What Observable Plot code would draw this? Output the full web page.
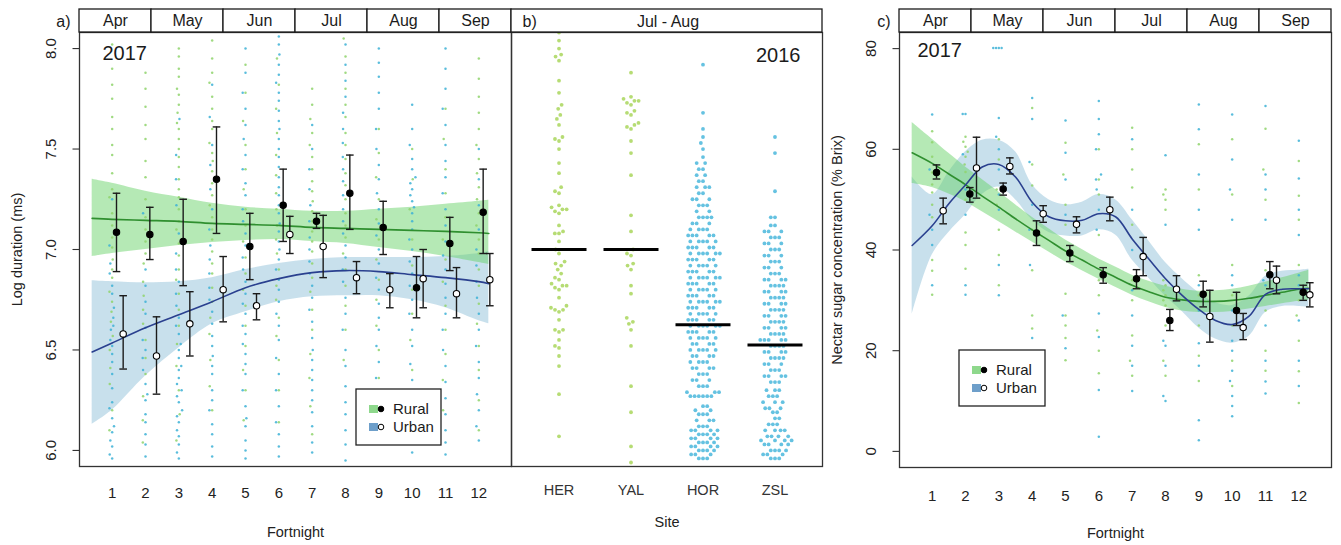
<!DOCTYPE html>
<html>
<head>
<meta charset="utf-8">
<script src="https://cdn.jsdelivr.net/npm/d3@7"></script>
<script src="https://cdn.jsdelivr.net/npm/@observablehq/plot@0.6"></script>
<style>
  body { margin: 0; background: #fff; }
  #fig { position: relative; width: 1341px; height: 545px; background: #fff; }
  #fig svg { position: absolute; left: 0; top: 0; }
</style>
</head>
<body>
<div id="fig"></div>
<script>
// ---------------- categories ----------------
const fortnights = [1, 2, 3, 4, 5, 6, 7, 8, 9, 10, 11, 12];
const months = ["Apr", "May", "Jun", "Jul", "Aug", "Sep"];
const groups = ["Rural", "Urban"];

// ---------------- a) log call duration, 2017 ----------------
const durTicks = [6.0, 6.5, 7.0, 7.5, 8.0];
const durRuralMean = [7.086, 7.075, 7.04, 7.35, 7.015, 7.22, 7.14, 7.28, 7.11, 6.81, 7.03, 7.185];
const durRuralLo   = [6.89, 6.95, 6.82, 7.08, 6.85, 7.04, 7.105, 7.10, 6.975, 6.66, 6.895, 6.98];
const durRuralHi   = [7.28, 7.21, 7.25, 7.61, 7.18, 7.40, 7.18, 7.47, 7.24, 6.965, 7.16, 7.40];
const durUrbanMean = [6.58, 6.47, 6.63, 6.80, 6.72, 7.075, 7.015, 6.86, 6.80, 6.855, 6.78, 6.85];
const durUrbanLo   = [6.405, 6.28, 6.47, 6.64, 6.65, 6.98, 6.86, 6.78, 6.71, 6.71, 6.66, 6.72];
const durUrbanHi   = [6.77, 6.665, 6.79, 6.965, 6.78, 7.165, 7.17, 6.94, 6.88, 7.0, 6.91, 6.98];

// fitted trends with confidence bands
const durFitX       = [0.4, 1, 2, 3, 4, 5, 6, 7, 8, 9, 10, 11, 12, 12.3];
const durRuralFit   = [7.155, 7.15, 7.145, 7.14, 7.13, 7.125, 7.12, 7.11, 7.105, 7.1, 7.095, 7.09, 7.083, 7.08];
const durRuralFitLo = [6.965, 6.98, 7.0, 7.02, 7.035, 7.045, 7.05, 7.04, 7.03, 7.01, 6.99, 6.965, 6.935, 6.925];
const durRuralFitHi = [7.35, 7.33, 7.29, 7.26, 7.23, 7.21, 7.2, 7.19, 7.19, 7.2, 7.21, 7.225, 7.24, 7.245];
const durUrbanFit   = [6.49, 6.535, 6.61, 6.675, 6.74, 6.81, 6.855, 6.885, 6.895, 6.89, 6.875, 6.86, 6.84, 6.83];
const durUrbanFitLo = [6.13, 6.2, 6.37, 6.51, 6.63, 6.69, 6.74, 6.765, 6.77, 6.77, 6.75, 6.71, 6.645, 6.63];
const durUrbanFitHi = [6.845, 6.84, 6.835, 6.84, 6.86, 6.9, 6.93, 6.95, 6.96, 6.96, 6.96, 6.965, 6.98, 6.99];

// individual calls, one string per fortnight
const durRuralObs = [
  "8.02 7.9 7.82 7.75 7.66 7.6 7.52 7.47 7.38 7.3 7.26 7.18 7.12 7.06 7.01 6.95 6.9 6.86 6.79 6.74 6.69 6.64 6.57 6.5 6.41 6.33 6.2 6.1",
  "7.88 7.8 7.71 7.62 7.55 7.44 7.36 7.25 7.16 7.1 7.04 6.98 6.93 6.84 6.77 6.7 6.63 6.55 6.46 6.38 6.27 6.15 6.04",
  "8.0 7.96 7.9 7.86 7.8 7.77 7.72 7.68 7.63 7.6 7.55 7.5 7.46 7.41 7.35 7.3 7.26 7.2 7.14 7.1 7.03 6.97 6.9 6.85 6.78 6.7 6.62 6.53 6.42 6.3 6.18 6.05",
  "8.04 7.95 7.88 7.83 7.76 7.7 7.64 7.6 7.53 7.48 7.44 7.39 7.33 7.27 7.22 7.16 7.1 7.05 6.99 6.93 6.88 6.81 6.74 6.66 6.58 6.45 6.32 6.2",
  "7.92 7.78 7.64 7.52 7.4 7.3 7.2 7.12 7.04 6.96 6.88 6.8 6.72 6.62 6.52 6.4 6.3 6.15",
  "7.95 7.82 7.7 7.58 7.47 7.37 7.28 7.2 7.12 7.05 6.98 6.9 6.82 6.75 6.66 6.57 6.45 6.3 6.14",
  "7.8 7.72 7.65 7.58 7.52 7.46 7.4 7.34 7.29 7.24 7.19 7.14 7.09 7.04 6.99 6.93 6.86 6.79 6.7 6.6 6.48 6.36 6.22 6.08",
  "8.05 7.96 7.88 7.8 7.72 7.66 7.58 7.52 7.45 7.38 7.32 7.25 7.18 7.12 7.06 6.98 6.9 6.82 6.72 6.6 6.45",
  "7.6 7.48 7.36 7.25 7.15 7.05 6.95 6.85 6.75 6.62 6.5 6.36",
  "7.5 7.35 7.2 7.05 6.92 6.8 6.68 6.55 6.4 6.25",
  "7.7 7.55 7.4 7.28 7.16 7.05 6.95 6.84 6.72 6.6 6.48 6.35 6.2",
  "7.95 7.85 7.76 7.68 7.6 7.52 7.45 7.38 7.31 7.25 7.18 7.12 7.05 6.98 6.9 6.82 6.73 6.63 6.52 6.4 6.25 6.1"
];
const durUrbanObs = [
  "7.25 7.02 6.93 6.88 6.82 6.78 6.71 6.66 6.62 6.6 6.55 6.52 6.48 6.44 6.38 6.31 6.24 6.21 6.16 6.12 6.09 6.05 6.02 5.98 5.96",
  "7.18 6.9 6.82 6.74 6.68 6.61 6.55 6.5 6.46 6.4 6.33 6.28 6.25 6.18 6.14 6.08 6.03 5.97",
  "7.65 7.47 7.35 7.22 7.08 6.98 6.9 6.84 6.78 6.72 6.66 6.62 6.58 6.53 6.5 6.46 6.42 6.4 6.36 6.33 6.3 6.27 6.24 6.2 6.17 6.14 6.1 6.07 6.03 5.99 5.96",
  "7.82 7.66 7.52 7.42 7.3 7.2 7.1 7.02 6.95 6.88 6.81 6.75 6.69 6.63 6.57 6.52 6.47 6.42 6.38 6.3 6.25 6.2 6.13 6.08 6.02 5.97",
  "8.0 7.88 7.78 7.7 7.62 7.55 7.47 7.4 7.33 7.27 7.2 7.14 7.08 7.02 6.96 6.9 6.84 6.78 6.73 6.68 6.62 6.58 6.53 6.48 6.43 6.38 6.3 6.22 6.16 6.12 6.05 6.0 5.96",
  "8.06 8.02 7.97 7.92 7.87 7.83 7.78 7.74 7.69 7.64 7.6 7.55 7.5 7.46 7.41 7.36 7.31 7.27 7.22 7.18 7.13 7.09 7.04 7.0 6.95 6.9 6.85 6.8 6.74 6.68 6.62 6.55 6.46 6.38 6.3 6.22 6.14 6.08 6.02 5.97",
  "7.62 7.5 7.4 7.3 7.22 7.14 7.06 7.0 6.94 6.88 6.82 6.76 6.7 6.64 6.56 6.5 6.45 6.4 6.35 6.3 6.25 6.19 6.12 6.04 5.99",
  "8.02 7.92 7.84 7.76 7.68 7.6 7.53 7.46 7.4 7.34 7.27 7.2 7.14 7.08 7.02 6.96 6.9 6.84 6.76 6.68 6.6 6.5 6.42 6.32 6.24 6.18 6.1 6.03 5.95",
  "8.0 7.93 7.86 7.78 7.7 7.6 7.5 7.42 7.35 7.28 7.2 7.13 7.07 7.0 6.93 6.86 6.8 6.73 6.66 6.6 6.52 6.44 6.36 6.28 6.2 6.12 6.04",
  "7.72 7.6 7.52 7.45 7.4 7.36 7.33 7.3 7.27 7.24 7.21 7.18 7.14 7.1 7.05 7.0 6.94 6.88 6.82 6.75 6.68 6.6 6.52 6.43 6.35 6.28 6.2 6.12 6.05 5.99",
  "8.0 7.9 7.8 7.7 7.62 7.52 7.44 7.36 7.28 7.2 7.12 7.04 6.97 6.9 6.83 6.76 6.68 6.6 6.5 6.42 6.34 6.26 6.18 6.1 6.04 5.98",
  "7.5 7.35 7.22 7.1 7.0 6.92 6.84 6.76 6.68 6.6 6.52 6.44 6.36 6.28 6.2 6.12 6.05"
];

// ---------------- b) sites, Jul - Aug 2016 ----------------
const sites = ["HER", "YAL", "HOR", "ZSL"];
const siteGroup = ["Rural", "Rural", "Urban", "Urban"];
const siteMedian = [7.0, 7.0, 6.625, 6.525];
const herObs = "8.08 8.04 8.0 7.97 7.96 7.94 7.84 7.78 7.72 7.7 7.67 7.65 7.62 7.56 7.55 7.54 7.5 7.43 7.38 7.31 7.29 7.28 7.22 7.21 7.2 7.2 7.19 7.18 7.12 7.09 7.08 7.08 7.04 7.0 6.98 6.94 6.93 6.92 6.9 6.88 6.86 6.85 6.83 6.82 6.82 6.81 6.8 6.76 6.72 6.71 6.7 6.7 6.69 6.65 6.6 6.6 6.59 6.55 6.52 6.51 6.47 6.42 6.28 6.07";
const yalObs = "7.88 7.76 7.75 7.74 7.74 7.73 7.72 7.69 7.68 7.67 7.63 7.62 7.61 7.6 7.54 7.48 7.37 7.17 7.09 7.0 6.98 6.97 6.93 6.92 6.9 6.82 6.78 6.66 6.64 6.63 6.6 6.52 6.32 6.19 6.02 5.94";
// [value, number of calls with that value]
const horRows = [[7.92,1],[7.68,1],[7.6,1],[7.56,1],[7.53,1],[7.5,1],[7.46,1],[7.43,2],[7.4,2],[7.37,2],[7.34,2],[7.31,3],[7.28,2],[7.25,3],[7.22,3],[7.19,2],[7.16,4],[7.13,3],[7.1,4],
  [7.07,5],[7.04,5],[7.01,5],[6.98,6],[6.95,5],[6.92,5],[6.89,5],[6.86,6],[6.83,5],[6.8,5],[6.77,5],[6.74,6],[6.71,5],[6.68,5],[6.65,5],
  [6.62,6],[6.59,5],[6.56,5],[6.53,4],[6.5,5],[6.47,4],[6.44,4],[6.41,4],[6.38,3],[6.35,3],[6.32,3],[6.29,3],[6.27,6],[6.22,2],[6.2,2],[6.18,3],[6.15,3],[6.12,3],
  [6.1,4],[6.08,4],[6.06,4],[6.04,4],[6.02,4],[6.0,4],[5.98,3],[5.96,3]];
const zslRows = [[7.56,1],[7.48,1],[7.29,1],[7.16,2],[7.12,2],[7.09,3],[7.06,3],[7.03,3],[7.0,3],[6.97,3],[6.94,3],[6.91,3],[6.88,3],[6.85,4],[6.82,4],[6.79,4],[6.76,4],[6.73,4],
  [6.7,4],[6.67,4],[6.64,4],[6.61,4],[6.58,4],[6.55,5],[6.52,4],[6.49,4],[6.46,4],[6.43,3],[6.4,3],[6.37,4],[6.34,3],[6.3,3],[6.27,3],[6.24,3],[6.21,3],[6.19,2],[6.16,2],
  [6.13,3],[6.1,4],[6.07,4],[6.05,4],[6.03,4],[6.0,4],[5.98,3],[5.96,3]];

// ---------------- c) nectar sugar concentration, 2017 ----------------
const sugarTicks = [0, 20, 40, 60, 80];
const sugarRuralMean = [55.4, 51.1, 52.1, 43.4, 39.4, 35.1, 34.3, 26.0, 31.2, 28.0, 35.1, 31.6];
const sugarRuralLo   = [54.1, 49.5, 50.9, 40.9, 37.7, 33.4, 32.3, 24.0, 28.7, 25.0, 32.3, 30.0];
const sugarRuralHi   = [56.9, 52.4, 53.3, 45.8, 40.9, 36.5, 36.1, 28.2, 33.8, 31.6, 37.7, 33.0];
const sugarUrbanMean = [47.8, 56.3, 56.6, 47.2, 45.1, 48.0, 38.7, 32.2, 26.8, 24.6, 34.0, 31.1];
const sugarUrbanLo   = [45.2, 50.3, 55.1, 45.5, 43.4, 45.8, 34.9, 29.9, 21.7, 22.2, 31.3, 28.7];
const sugarUrbanHi   = [50.3, 62.4, 58.3, 48.8, 46.6, 50.5, 42.5, 34.9, 32.0, 27.4, 36.8, 33.5];

const sugarFitX       = [0.4, 1, 1.5, 2, 2.5, 3, 3.5, 4, 4.5, 5, 5.5, 6, 6.5, 7, 7.5, 8, 8.5, 9, 9.5, 10, 10.5, 11, 11.5, 12, 12.3];
const sugarRuralFit   = [59.3, 57.2, 55.1, 53.0, 50.7, 48.5, 46.2, 44.0, 41.9, 39.8, 38.0, 36.2, 34.6, 33.0, 31.7, 30.6, 30.1, 29.8, 29.8, 30.0, 30.4, 31.0, 31.6, 32.2, 32.4];
const sugarRuralFitLo = [53.2, 52.4, 51.1, 49.6, 47.6, 45.6, 43.6, 41.6, 39.6, 37.6, 35.9, 34.2, 32.6, 31.0, 29.7, 28.6, 27.9, 27.6, 27.6, 27.8, 28.3, 28.8, 29.3, 29.8, 30.0];
const sugarRuralFitHi = [65.3, 62.0, 59.2, 56.5, 54.0, 51.5, 49.0, 46.5, 44.2, 42.0, 40.1, 38.2, 36.6, 35.0, 33.8, 32.8, 32.2, 31.8, 31.9, 32.2, 32.8, 33.6, 34.5, 35.4, 36.0];
const sugarUrbanFit   = [40.9, 44.8, 49.2, 52.9, 56.5, 57.0, 54.5, 49.5, 46.6, 45.8, 45.9, 47.2, 46.6, 42.2, 38.2, 34.3, 31.0, 28.2, 26.0, 25.2, 26.8, 31.2, 32.2, 32.3, 32.3];
const sugarUrbanFitLo = [27.2, 39.0, 43.5, 47.0, 51.0, 52.5, 50.0, 46.0, 43.5, 42.8, 42.8, 44.0, 43.0, 38.0, 34.4, 30.8, 27.8, 24.5, 22.3, 21.5, 22.8, 27.6, 28.8, 28.8, 28.6];
const sugarUrbanFitHi = [54.5, 51.0, 55.5, 59.5, 61.8, 61.8, 59.5, 53.0, 50.0, 49.0, 49.5, 51.0, 50.0, 46.0, 41.8, 37.5, 34.3, 31.5, 29.5, 29.0, 30.8, 34.8, 35.8, 36.0, 36.2];

const sugarRuralObs = [
  "63.6 61.4 58.5 55.4 53 51.4 49 46.5 38 35.9 31.1",
  "62.5 61.5 60.5 59.5 58.5 57 55.5 50 43.5 41 36.3",
  "62 58 52 49 44 39 33",
  "68.2 57 52.8 44 36 27 24.4",
  "61.3 55 49 45 31.3 27 25 22.5 18.1",
  "60 54 51 43 34 31 24 20 15.5",
  "64.3 60 56 52.4 45 34 30 23 18 15",
  "52 51 50 48 34 33 32 31 30 29 25 18 15",
  "61 52 35 31 25 19 14",
  "62 51 37 31 25 18 13",
  "64.1 56 50 36 28 20 16",
  "57.7 50.8 46 37 30 27 22 15.9 9.6"
];
const sugarUrbanObs = [
  "66.9 56 47 44 41 33",
  "67 67 59 52 47 33 31.1",
  "80.1 80.1 80.1 80.1 66.2 62.5 60 56 51 48 37 31",
  "70.2 66 57.5 49 44 37 22.5",
  "65.7 59.3 54 47 27 20.5",
  "69.6 66 63 60 55 54 52 48 44 27.4 22.7 12.2 2.9",
  "62 48 40 32 27 21 17 12",
  "58.8 45 22 21 17 11 10",
  "68.9 64 55 48 44 33 28 21.5 17 6.2 2.2",
  "66.9 58 52 46 35 33 28 22 20 16 14 11 9 7",
  "68.6 55 52 46 34 33 25 18 13.9 11.5",
  "61.7 54.2 48 43 35 33 26 18 13"
];

// ---------------- styling ----------------
const W = 1341, H = 545;
const FONT = '"Liberation Sans", Arial, Helvetica, sans-serif';
const INK = "#1b1b1b";
const GREEN_BAND = "rgb(100,208,100)", BLUE_BAND = "rgb(140,190,216)", BAND_OPACITY = 0.48;
const GREEN_LINE = "#2f8f2f", BLUE_LINE = "#2a408f";
const GREEN_DOT = "#8fd36c", BLUE_DOT = "#3db1d6";
const SITE_GREEN = "#a9d65c", SITE_BLUE = "#4ab7dc";
const RURAL_DX = 0.13, URBAN_DX = 0.33;   // means of the two groups sit side by side
const xDomain = [0.02, 12.98];
const STRIP = 23;                          // header strip height, px

// horizontal bar used for error-bar caps, axis ticks and medians
const hLine = {draw(ctx, size) { const r = Math.sqrt(size / Math.PI); ctx.moveTo(-r, 0); ctx.lineTo(r, 0); }};

const parse = s => s.trim().split(/\s+/).map(Number);
const fromRows = rows => rows.flatMap(([v, n]) => Array(n).fill(v));

// beeswarm: each point takes the horizontal offset closest to its column centre
// that keeps it clear of its neighbours (elliptical clearance gapX by gapY, px)
function swarm(points, pxX, pxY, gapX, gapY) {
  const order = points.map((p, i) => i).sort((i, j) => points[i].v - points[j].v);
  const placed = [];
  const need = dy => gapX * Math.sqrt(Math.max(0, 1 - (dy / gapY) ** 2));
  for (const i of order) {
    const y = points[i].v * pxY;
    const near = placed.filter(q => Math.abs(q.y - y) < gapY);
    const cands = [0];
    for (const q of near) {
      const h = need(q.y - y);
      cands.push(q.x + h, q.x - h);
    }
    cands.sort((a, b) => Math.abs(a) - Math.abs(b) || a - b);
    let x = 0;
    for (const c of cands) {
      if (near.every(q => Math.abs(q.x - c) >= need(q.y - y) - 1e-6)) { x = c; break; }
    }
    placed.push({x, y});
    points[i].off = x / pxX;
  }
  return points;
}

const baseStyle = {background: "transparent", overflow: "visible", fontFamily: FONT, fontSize: "15px", color: INK};

// ---------------- seasonal panels (a and c) ----------------
function seasonalPanel(P) {
  const F = P.frame, yDomain = P.yDomain;
  const pxX = (F.right - F.left) / (xDomain[1] - xDomain[0]);
  const pxY = (F.bottom - F.top) / (yDomain[1] - yDomain[0]);
  const yTop = yDomain[1], yStrip = yDomain[1] + STRIP / pxY;
  const edges = d3.range(months.length + 1).map(i => xDomain[0] + i * (xDomain[1] - xDomain[0]) / months.length);

  const obs = [];
  fortnights.forEach((f, i) => {
    const col = [
      ...parse(P.ruralObs[i]).map(v => ({f, v, group: "Rural"})),
      ...parse(P.urbanObs[i]).map(v => ({f, v, group: "Urban"}))
    ];
    swarm(col, pxX, pxY, 2.8, 8);
    obs.push(...col);
  });
  const means = fortnights.flatMap((f, i) => [
    {f, group: "Rural", m: P.ruralMean[i], lo: P.ruralLo[i], hi: P.ruralHi[i]},
    {f, group: "Urban", m: P.urbanMean[i], lo: P.urbanLo[i], hi: P.urbanHi[i]}
  ]);
  const fitR = P.fitX.map((x, i) => ({x, y: P.ruralFit[i], lo: P.ruralFitLo[i], hi: P.ruralFitHi[i]}));
  const fitU = P.fitX.map((x, i) => ({x, y: P.urbanFit[i], lo: P.urbanFitLo[i], hi: P.urbanFitHi[i]}));
  const mx = d => d.f + (d.group === "Rural" ? RURAL_DX : URBAN_DX);
  const curve = "catmull-rom";

  return Plot.plot({
    width: W, height: H,
    marginLeft: F.left, marginRight: W - F.right, marginTop: F.top, marginBottom: H - F.bottom,
    style: baseStyle,
    x: {domain: xDomain, axis: null},
    y: {domain: yDomain, axis: null},
    marks: [
      Plot.areaY(fitU, {x: "x", y1: "lo", y2: "hi", fill: BLUE_BAND, fillOpacity: BAND_OPACITY, curve}),
      Plot.areaY(fitR, {x: "x", y1: "lo", y2: "hi", fill: GREEN_BAND, fillOpacity: BAND_OPACITY, curve}),
      Plot.dot(obs, {x: d => d.f + d.off, y: "v", r: 1.25, fill: d => d.group === "Rural" ? GREEN_DOT : BLUE_DOT, fillOpacity: 0.85}),
      Plot.line(fitR, {x: "x", y: "y", stroke: GREEN_LINE, strokeWidth: 1.6, curve}),
      Plot.line(fitU, {x: "x", y: "y", stroke: BLUE_LINE, strokeWidth: 1.6, curve}),
      Plot.ruleX(means, {x: mx, y1: "lo", y2: "hi", stroke: INK, strokeWidth: 1.4}),
      Plot.dot(means, {x: mx, y: "lo", symbol: hLine, r: 3.8, fill: "none", stroke: INK, strokeWidth: 1.4}),
      Plot.dot(means, {x: mx, y: "hi", symbol: hLine, r: 3.8, fill: "none", stroke: INK, strokeWidth: 1.4}),
      Plot.dot(means, {x: mx, y: "m", r: 3.2, fill: d => d.group === "Rural" ? "#000" : "#fff", stroke: "#000", strokeWidth: 1.1}),
      Plot.frame({stroke: "#333", strokeWidth: 1.3}),
      // month header
      Plot.rect(months, {x1: (d, i) => edges[i], x2: (d, i) => edges[i + 1], y1: () => yTop, y2: () => yStrip, fill: "#fff", stroke: INK, strokeWidth: 1.3}),
      Plot.text(months, {x: (d, i) => (edges[i] + edges[i + 1]) / 2, y: () => (yTop + yStrip) / 2, text: d => d, fontSize: 16, lineAnchor: "middle"}),
      Plot.text([P.tag], {frameAnchor: "top-left", dx: -9, dy: -11, text: d => d, textAnchor: "end", lineAnchor: "middle", fontSize: 16}),
      Plot.text([P.year], {frameAnchor: "top-left", dx: P.yearDx, dy: P.yearDy, text: d => d, textAnchor: "start", lineAnchor: "middle", fontSize: 20}),
      // axes
      Plot.dot(P.yTicks, {y: d => d, frameAnchor: "left", dx: -3.5, symbol: hLine, r: 3.5, fill: "none", stroke: "#333", strokeWidth: 1.1}),
      Plot.text(P.yTicks, {y: d => d, frameAnchor: "left", dx: -28, rotate: -90, text: P.tickFormat, textAnchor: "middle", lineAnchor: "middle", fontSize: 15, fill: "#222"}),
      Plot.text(fortnights, {x: d => d, frameAnchor: "bottom", dy: P.xLabelDy, text: d => String(d), lineAnchor: "middle", fontSize: 15, fill: "#222"}),
      Plot.text([P.yLabel], {frameAnchor: "left", dx: -62, rotate: -90, text: d => d, textAnchor: "middle", lineAnchor: "middle", fontSize: 14.5, fill: "#222"}),
      Plot.text(["Fortnight"], {frameAnchor: "bottom", dy: 66, text: d => d, lineAnchor: "middle", fontSize: 14.5, fill: "#222"})
    ]
  });
}

// ---------------- panel b ----------------
function sitePanel() {
  const F = {left: 511, right: 822, top: 32, bottom: 466};
  const xDom = [0.34, 4.66], yDom = [5.92, 8.08];
  const pxX = (F.right - F.left) / (xDom[1] - xDom[0]);
  const pxY = (F.bottom - F.top) / (yDom[1] - yDom[0]);
  const yTop = yDom[1], yStrip = yDom[1] + STRIP / pxY;
  const lists = [parse(herObs), parse(yalObs), fromRows(horRows), fromRows(zslRows)];
  const obs = [];
  lists.forEach((vals, i) => {
    const col = vals.map(v => ({s: i + 1, v, group: siteGroup[i]}));
    swarm(col, pxX, pxY, 4.2, 7);
    obs.push(...col);
  });
  return Plot.plot({
    width: W, height: H,
    marginLeft: F.left, marginRight: W - F.right, marginTop: F.top, marginBottom: H - F.bottom,
    style: baseStyle,
    x: {domain: xDom, axis: null},
    y: {domain: yDom, axis: null},
    marks: [
      Plot.dot(obs, {x: d => d.s + d.off, y: "v", r: 1.9, fill: d => d.group === "Rural" ? SITE_GREEN : SITE_BLUE, fillOpacity: 0.85}),
      Plot.dot(siteMedian, {x: (d, i) => i + 1, y: d => d, symbol: hLine, r: 27.5, fill: "none", stroke: "#000", strokeWidth: 3}),
      Plot.frame({stroke: "#333", strokeWidth: 1.3}),
      Plot.rect(["Jul - Aug"], {x1: () => xDom[0], x2: () => xDom[1], y1: () => yTop, y2: () => yStrip, fill: "#fff", stroke: INK, strokeWidth: 1.3}),
      Plot.text(["Jul - Aug"], {frameAnchor: "top", dx: 1, dy: -11, text: d => d, lineAnchor: "middle", fontSize: 16}),
      Plot.text(["b)"], {frameAnchor: "top-left", dx: 11, dy: -11, text: d => d, textAnchor: "start", lineAnchor: "middle", fontSize: 16}),
      Plot.text(["2016"], {frameAnchor: "top-right", dx: -22, dy: 23, text: d => d, textAnchor: "end", lineAnchor: "middle", fontSize: 20}),
      Plot.text(sites, {x: (d, i) => i + 1, frameAnchor: "bottom", dy: 24, text: d => d, lineAnchor: "middle", fontSize: 14.5, fill: "#333"}),
      Plot.text(["Site"], {frameAnchor: "bottom", dy: 56, text: d => d, lineAnchor: "middle", fontSize: 14.5, fill: "#222"})
    ]
  });
}

// ---------------- legends ----------------
function legend(svg, box) {
  const g = svg.append("g").attr("font-family", FONT).attr("font-size", 15).attr("fill", INK);
  g.append("rect").attr("x", box.x).attr("y", box.y).attr("width", box.w).attr("height", box.h)
    .attr("fill", "#fff").attr("stroke", "#222").attr("stroke-width", 1.3);
  const rows = [
    {label: groups[0], sw: "#8ed88c", dot: "#000"},
    {label: groups[1], sw: "#6e9fca", dot: "#fff"}
  ];
  rows.forEach((r, i) => {
    const cy = box.y + 20 + i * 18;
    g.append("rect").attr("x", box.x + 13).attr("y", cy - 4).attr("width", 9).attr("height", 8).attr("fill", r.sw);
    g.append("circle").attr("cx", box.x + 25).attr("cy", cy).attr("r", 2.8).attr("fill", r.dot).attr("stroke", "#000").attr("stroke-width", 1);
    g.append("text").attr("x", box.x + 37).attr("y", cy).attr("dy", "0.36em").text(r.label);
  });
}

// ---------------- assemble ----------------
const fig = document.getElementById("fig");

fig.append(seasonalPanel({
  frame: {left: 79, right: 511, top: 32, bottom: 466},
  yDomain: [5.92, 8.08], yTicks: durTicks, tickFormat: d => d.toFixed(1),
  yLabel: "Log duration (ms)", tag: "a)", year: "2017", yearDx: 23, yearDy: 21, xLabelDy: 27,
  ruralMean: durRuralMean, ruralLo: durRuralLo, ruralHi: durRuralHi,
  urbanMean: durUrbanMean, urbanLo: durUrbanLo, urbanHi: durUrbanHi,
  fitX: durFitX, ruralFit: durRuralFit, ruralFitLo: durRuralFitLo, ruralFitHi: durRuralFitHi,
  urbanFit: durUrbanFit, urbanFitLo: durUrbanFitLo, urbanFitHi: durUrbanFitHi,
  ruralObs: durRuralObs, urbanObs: durUrbanObs
}));

fig.append(sitePanel());

fig.append(seasonalPanel({
  frame: {left: 899, right: 1331, top: 32, bottom: 467},
  yDomain: [-3.2, 83.2], yTicks: sugarTicks, tickFormat: d => String(d),
  yLabel: "Nectar sugar concentration (% Brix)", tag: "c)", year: "2017", yearDx: 18, yearDy: 18, xLabelDy: 29,
  ruralMean: sugarRuralMean, ruralLo: sugarRuralLo, ruralHi: sugarRuralHi,
  urbanMean: sugarUrbanMean, urbanLo: sugarUrbanLo, urbanHi: sugarUrbanHi,
  fitX: sugarFitX, ruralFit: sugarRuralFit, ruralFitLo: sugarRuralFitLo, ruralFitHi: sugarRuralFitHi,
  urbanFit: sugarUrbanFit, urbanFitLo: sugarUrbanFitLo, urbanFitHi: sugarUrbanFitHi,
  ruralObs: sugarRuralObs, urbanObs: sugarUrbanObs
}));

const overlay = d3.create("svg").attr("width", W).attr("height", H).style("overflow", "visible");
legend(overlay, {x: 356, y: 389, w: 85, h: 56});
legend(overlay, {x: 959, y: 350, w: 86, h: 56});
fig.append(overlay.node());
</script>
</body>
</html>
